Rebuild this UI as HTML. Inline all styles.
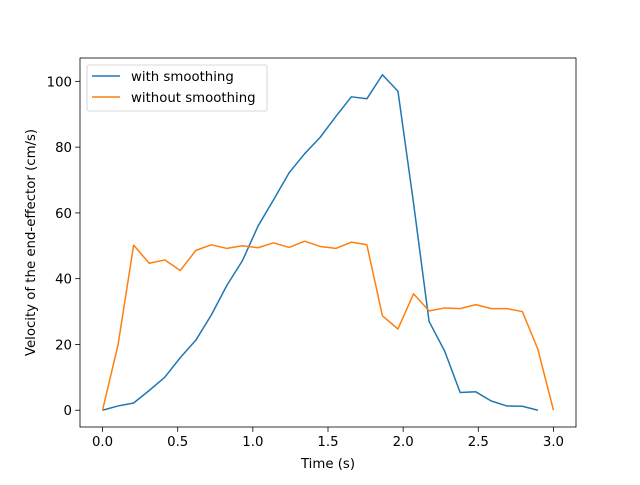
<!DOCTYPE html>
<html><head><meta charset="utf-8"><style>
body{margin:0;background:#fff}
svg{font-family:"DejaVu Sans","Liberation Sans",sans-serif}
</style></head><body>
<svg id="chart" width="640" height="480"></svg>
<script>
const blueValues=[0,1.3,2.2,6,10,16,21.3,29,38,45.5,56,64,72.2,78,83,89.3,95.3,94.7,102,97,63,27,18,5.4,5.6,2.8,1.3,1.2,0];
const orangeValues=[0,20,50.2,44.7,45.7,42.5,48.6,50.3,49.2,50,49.4,50.9,49.5,51.4,49.8,49.2,51.1,50.3,28.7,24.7,35.4,30.2,31.1,30.9,32.1,30.9,30.9,30,18.5,0];
const xTicks=[0,0.5,1,1.5,2,2.5,3];
const xTickLabels=["0.0","0.5","1.0","1.5","2.0","2.5","3.0"];
const yTicks=[0,20,40,60,80,100];
const step=3/29;
const L=80,R=576,T=58,B=427;
const xMin=-0.15,xMax=3.15,yMin=-5.1,yMax=107.1;
const X=v=>L+(v-xMin)/(xMax-xMin)*(R-L);
const Y=v=>B-(v-yMin)/(yMax-yMin)*(B-T);
const NS="http://www.w3.org/2000/svg";
const svg=document.getElementById('chart');
const FS=13.3;
function mk(t,a,p){const e=document.createElementNS(NS,t);for(const k in a)e.setAttribute(k,a[k]);(p||svg).appendChild(e);return e;}
function line(vals,color,name){
  const pts=vals.map((v,i)=>X(i*step).toFixed(2)+','+Y(v).toFixed(2)).join(' ');
  const el=mk('polyline',{points:pts,fill:'none',stroke:color,'stroke-width':1.5,'stroke-linejoin':'round'});
  
  
}
line(blueValues,'#1f77b4','series-with-smoothing');
line(orangeValues,'#ff7f0e','series-without-smoothing');
const frame=mk('rect',{x:L,y:T,width:R-L,height:B-T,fill:'none',stroke:'#000','stroke-width':0.8});


xTicks.forEach((v,i)=>{
  const x=X(v);
  const tk=mk('line',{x1:x,x2:x,y1:B,y2:B+4.9,stroke:'#000','stroke-width':0.8});
  
  
  const t=mk('text',{x:x,y:B+19,'text-anchor':'middle','font-size':FS});
  t.textContent=xTickLabels[i];
  
  
});
yTicks.forEach(v=>{
  const y=Y(v);
  const tk=mk('line',{x1:L-4.9,x2:L,y1:y,y2:y,stroke:'#000','stroke-width':0.8});
  
  
  const t=mk('text',{x:L-8,y:y+5,'text-anchor':'end','font-size':FS});
  t.textContent=String(v);
  
  
});
const xt=mk('text',{x:(L+R)/2,y:468,'text-anchor':'middle','font-size':FS});
xt.textContent='Time (s)';


const yt=mk('text',{x:0,y:0,'text-anchor':'middle','font-size':FS,transform:'translate(35,'+((T+B)/2)+') rotate(-90)'});
yt.textContent='Velocity of the end-effector (cm/s)';


const lg=mk('g',{});


mk('rect',{x:87,y:65,width:180,height:46,rx:2,fill:'#fff','fill-opacity':0.8,stroke:'#ccc','stroke-width':0.8},lg);
[['with smoothing','#1f77b4',76],['without smoothing','#ff7f0e',97]].forEach(([lab,c,y])=>{
  const e=mk('line',{x1:92,x2:120,y1:y,y2:y,stroke:c,'stroke-width':1.5},lg);
  
  
  const t=mk('text',{x:131,y:y+5,'font-size':FS},lg);
  t.textContent=lab;
  
  
});
</script>
</body></html>
